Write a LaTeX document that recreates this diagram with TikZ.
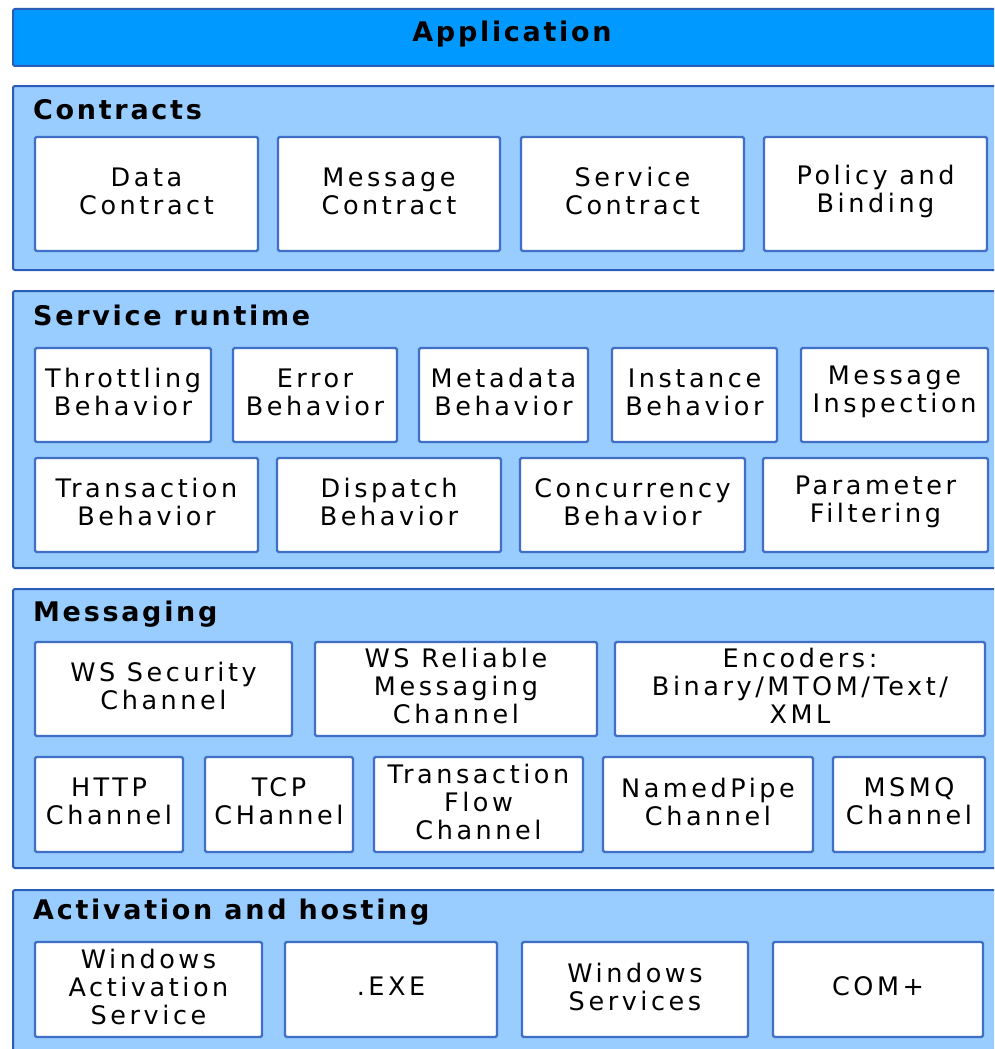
\documentclass[tikz,border=0pt]{standalone}
\usepackage{fontspec}
\setmainfont{DejaVu Sans}[LetterSpace=14]
\newfontfamily\titlefont{DejaVu Sans Bold}[LetterSpace=10]
\definecolor{appblue}{HTML}{0099FF}
\definecolor{layerblue}{HTML}{99CCFF}
\definecolor{edgeblue}{HTML}{2A5DB8}
\definecolor{boxedge}{HTML}{3F6FC6}
\tikzset{
  layer/.style={draw=edgeblue, fill=layerblue, line width=2pt, rounded corners=2pt},
  appbar/.style={draw=edgeblue, fill=appblue, line width=2pt, rounded corners=2pt},
  title/.style={anchor=west, inner sep=0pt, font=\titlefont\fontsize{27}{30}\selectfont},
  comp/.style={draw=boxedge, fill=white, line width=2.4pt, rounded corners=1.5pt,
    align=center, inner sep=0pt, font=\fontsize{25.5}{28}\selectfont},
  lbl/.style={align=center, inner sep=0pt, font=\fontsize{25.5}{28}\selectfont},
}
\newcommand{\bx}[6]{%
  \node[comp, minimum width={(#4-#2)*1pt}, minimum height={(#5-#3)*1pt}]
    (#1) at ({(#2+#4)/2},{(#3+#5)/2}) {};
  \node[lbl] at ([yshift=3pt]#1.center) {#6};}
\begin{document}
\begin{tikzpicture}[x=1pt,y=-1pt]
\useasboundingbox (0,0) rectangle (994,1049);
\clip (0,0) rectangle (994,1049);
% application
\draw[appbar] (13,9) rectangle (1012,66);
\node[title, anchor=center] (app) at (512,34) {Application};
% layers
\draw[layer] (13,86) rectangle (1012,270);
\draw[layer] (13,291) rectangle (1012,568);
\draw[layer] (13,589) rectangle (1012,868);
\draw[layer] (13,890) rectangle (1012,1070);
\node[title] (tcon) at (33,110) {Contracts};
\node[title] (tsr) at (33,315) {Service runtime};
\node[title] (tmsg) at (33,614) {Messaging};
\node[title] (tact) at (33,912) {Activation and hosting};
% contracts
\bx{dc}{35}{137}{258}{251}{Data\\Contract}
\bx{mc}{278}{137}{500}{251}{Message\\Contract}
\bx{sc}{521}{137}{744}{251}{Service\\Contract}
\bx{pb}{764}{137}{987}{251}{Policy and\\Binding}
% service runtime row 1
\bx{tb}{35}{348}{211}{442}{Throttling\\Behavior}
\bx{eb}{233}{348}{397}{442}{Error\\Behavior}
\bx{mb}{419}{348}{588}{442}{Metadata\\Behavior}
\bx{ib}{612}{348}{777}{442}{Instance\\Behavior}
\bx{mi}{801}{348}{988}{442}{Message\\Inspection}
% service runtime row 2
\bx{trb}{35}{458}{258}{552}{Transaction\\Behavior}
\bx{db}{277}{458}{501}{552}{Dispatch\\Behavior}
\bx{cb}{520}{458}{745}{552}{Concurrency\\Behavior}
\bx{pf}{763}{458}{988}{552}{Parameter\\Filtering}
% messaging row 1
\bx{wss}{35}{642}{292}{736}{WS Security\\Channel}
\bx{wsr}{315}{642}{597}{736}{WS Reliable\\Messaging\\Channel}
\bx{enc}{615}{642}{985}{736}{Encoders:\\Binary/MTOM/Text/\\XML}
% messaging row 2
\bx{http}{35}{757}{183}{852}{HTTP\\Channel}
\bx{tcp}{205}{757}{353}{852}{TCP\\CHannel}
\bx{tfc}{374}{757}{583}{852}{Transaction\\Flow\\Channel}
\bx{npc}{603}{757}{813}{852}{NamedPipe\\Channel}
\bx{mq}{833}{757}{985}{852}{MSMQ\\Channel}
% activation
\bx{was}{35}{942}{262}{1037}{Windows\\Activation\\Service}
\bx{exe}{285}{942}{497}{1037}{.EXE}
\bx{ws}{522}{942}{748}{1037}{Windows\\Services}
\bx{com}{773}{942}{983}{1037}{COM+}
\end{tikzpicture}
\end{document}
